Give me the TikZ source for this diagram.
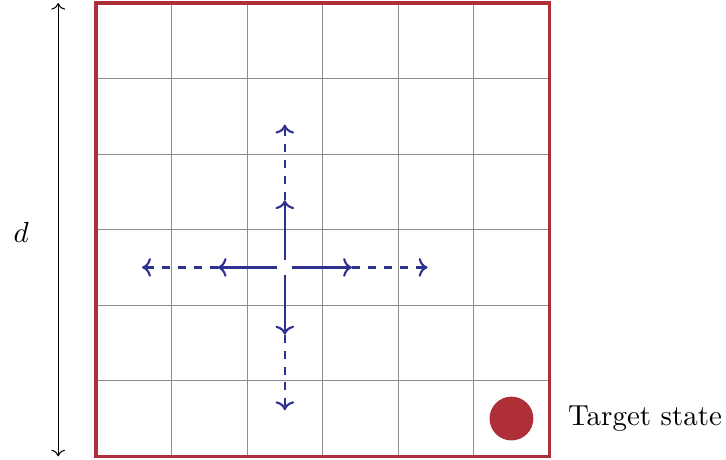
\documentclass[tikz,border=0pt]{standalone}
\usepackage{amsmath,amssymb,amsfonts}
\usepackage{xcolor}
\usepackage{tikz}
\usetikzlibrary{positioning,arrows.meta,calc}
\definecolor{gRed}{HTML}{AE2F37}
\definecolor{gBlue}{HTML}{2E3192}
\definecolor{gGrid}{HTML}{8C8C8C}

\begin{document}
\begin{tikzpicture}[x=1cm,y=1cm,
  font=\fontsize{10.9}{13}\selectfont,
  move/.style={->,gBlue,thick},
  jump/.style={->,gBlue,thick,dashed}]
\useasboundingbox (-1.27,-0.04) rectangle (8.34,6.04);

% grid and border
\draw[gGrid,line width=0.4pt] (0,0) grid (6,6);
\draw[gRed,line width=1.3pt] (0,0) rectangle (6,6);

% size of the grid
\coordinate (dtop) at (-0.5,6);
\coordinate (dbot) at (-0.5,0);
\draw[<->] (dtop) -- (dbot);
\node (dlab) at (-0.99,2.97) {$d$};

% agent and its moves
\node[circle,inner sep=0,minimum size=0.18cm] (agent) at (2.5,2.5) {};
\coordinate (r1) at (3.39,2.5); \coordinate (r2) at (4.39,2.5);
\coordinate (l1) at (1.61,2.5); \coordinate (l2) at (0.61,2.5);
\coordinate (u1) at (2.5,3.39); \coordinate (u2) at (2.5,4.39);
\coordinate (d1) at (2.5,1.61); \coordinate (d2) at (2.5,0.61);

\draw[move] (agent.east) -- (r1);
\draw[jump] (r1) -- (r2);
\draw[move] (agent.west) -- (l1);
\draw[jump] (l1) -- (l2);
\draw[move] (agent.north) -- (u1);
\draw[jump] (u1) -- (u2);
\draw[move] (agent.south) -- (d1);
\draw[jump] (d1) -- (d2);

% target
\node[circle,fill=gRed,inner sep=0,minimum size=0.58cm] (target) at (5.5,0.5) {};
\node[right=0.33cm of target] (tlab) {Target state};
\end{tikzpicture}
\end{document}
